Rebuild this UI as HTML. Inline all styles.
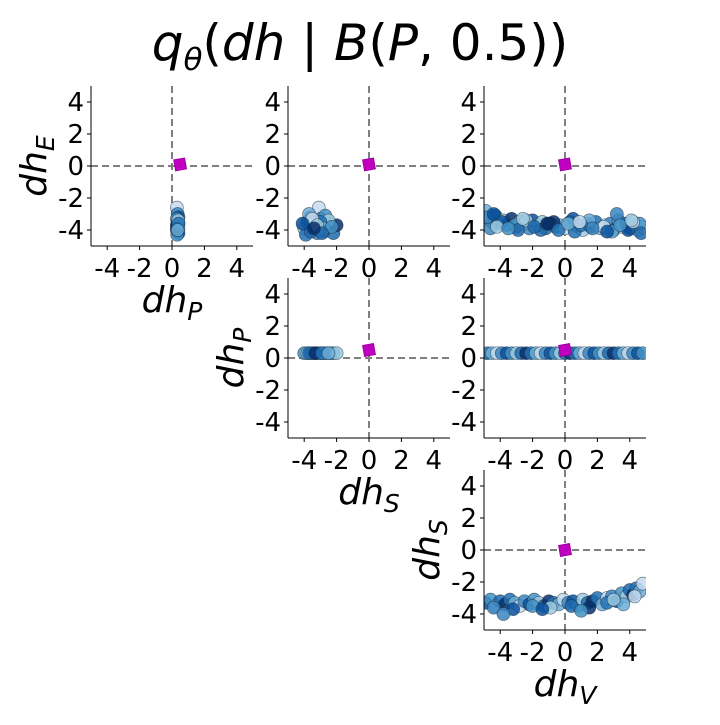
<!DOCTYPE html>
<html><head><meta charset="utf-8">
<style>
body{margin:0;background:#fff;}
svg text{font-family:"DejaVu Sans","Liberation Sans",sans-serif;}
</style></head>
<body>
<svg id="fig" width="720" height="720" viewBox="0 0 720 720" xmlns="http://www.w3.org/2000/svg">
<text x="360" y="60" text-anchor="middle" font-size="50"><tspan font-style="italic">q</tspan><tspan font-style="italic" font-size="31" dy="10">θ</tspan><tspan dy="-10">(</tspan><tspan font-style="italic">dh</tspan> | <tspan font-style="italic">B</tspan>(<tspan font-style="italic">P</tspan>, 0.5))</text>
</svg>
<script>
// ---- data ----
const tickValues = [-4,-2,0,2,4];
const tickLabels = ["-4","-2","0","2","4"];
const p00x = [0.3,0.35,0.4,0.3,0.35,0.4,0.3,0.35,0.4,0.3,0.35,0.4,0.32,0.38,0.35,0.3,0.4,0.35];
const p00y = [-2.6,-3.0,-3.2,-3.3,-3.5,-3.6,-3.7,-3.8,-3.9,-4.0,-4.1,-4.2,-4.3,-3.4,-4.0,-3.9,-3.6,-4.0];
const p01x = [-4.0,-3.8,-3.6,-3.5,-3.3,-3.1,-3.0,-2.8,-2.6,-2.4,-2.2,-2.0,-3.9,-3.7,-3.4,-3.2,-2.9,-2.7,-2.5,-3.6,-3.3,-3.0,-2.8,-3.5,-3.1,-4.1,-2.3,-3.2,-2.9,-3.4];
const p01y = [-3.9,-3.5,-3.2,-4.0,-3.7,-2.6,-3.3,-4.1,-3.8,-3.6,-4.2,-3.7,-4.3,-3.0,-3.6,-4.2,-3.9,-3.1,-3.4,-4.1,-3.8,-3.5,-3.9,-3.3,-4.0,-3.6,-3.8,-3.7,-4.2,-3.9];
const p02x = [-4.9,-4.7,-4.5,-4.3,-4.1,-3.8,-3.6,-3.3,-3.0,-2.8,-2.5,-2.2,-2.0,-1.7,-1.4,-1.2,-0.9,-0.6,-0.3,0.0,0.3,0.5,0.8,1.1,1.4,1.6,1.9,2.2,2.5,2.8,3.0,3.3,3.5,3.8,4.0,4.3,4.5,4.8,-4.6,-3.9,-3.1,-2.4,-1.5,-0.7,0.6,1.5,2.4,3.2,3.9,4.6,-4.2,-2.9,-1.0,1.0,2.9,4.2,-4.8,-4.4,-3.5,-2.6,-1.9,-1.1,-0.4,0.2,0.9,1.7,2.6,3.4,4.1,4.7];
const p02y = [-2.8,-3.3,-3.5,-3.1,-3.6,-3.4,-3.7,-3.3,-3.8,-3.5,-3.6,-3.9,-3.4,-3.7,-3.5,-3.9,-3.6,-3.8,-3.7,-3.9,-3.5,-3.3,-3.8,-4.0,-3.6,-3.8,-3.5,-3.9,-3.7,-3.6,-4.0,-3.4,-3.8,-3.6,-3.9,-3.7,-4.0,-3.8,-3.9,-3.5,-3.7,-3.4,-4.0,-3.5,-4.1,-3.4,-3.8,-3.0,-4.0,-3.6,-3.8,-4.0,-3.6,-3.7,-4.1,-3.5,-3.2,-3.0,-3.9,-3.3,-3.8,-3.6,-4.0,-3.6,-3.5,-3.9,-4.1,-3.7,-3.4,-4.2];
const p11x = [-4.0,-3.8,-3.6,-3.4,-3.2,-3.0,-2.8,-2.6,-2.4,-2.2,-2.0,-3.7,-3.3,-2.9,-2.5];
const p11y = [0.3,0.3,0.3,0.3,0.3,0.3,0.3,0.3,0.3,0.3,0.3,0.3,0.3,0.3,0.3];
const p12x = [-4.8,-4.5,-4.2,-3.9,-3.6,-3.3,-3.0,-2.7,-2.4,-2.1,-1.8,-1.5,-1.2,-0.9,-0.6,-0.3,0.0,0.3,0.6,0.9,1.2,1.5,1.8,2.1,2.4,2.7,3.0,3.3,3.6,3.9,4.2,4.5,4.8];
const p12y = [0.3,0.3,0.3,0.3,0.3,0.3,0.3,0.3,0.3,0.3,0.3,0.3,0.3,0.3,0.3,0.3,0.3,0.3,0.3,0.3,0.3,0.3,0.3,0.3,0.3,0.3,0.3,0.3,0.3,0.3,0.3,0.3,0.3];
const p22x = [-4.9,-4.6,-4.3,-4.0,-3.7,-3.4,-3.1,-2.8,-2.5,-2.2,-1.9,-1.6,-1.3,-1.0,-0.7,-0.4,-0.1,0.2,0.5,0.8,1.1,1.4,1.7,2.0,2.3,2.6,2.9,3.2,3.5,3.8,4.0,4.2,4.4,4.6,4.8,-4.4,-3.2,-2.0,-0.9,0.4,1.5,2.6,3.6,4.3,-3.8,-1.4,1.0,3.0];
const p22y = [-3.3,-3.1,-3.5,-3.2,-3.4,-3.1,-3.3,-3.5,-3.2,-3.4,-3.1,-3.3,-3.5,-3.2,-3.3,-3.4,-3.1,-3.3,-3.2,-3.5,-3.1,-3.3,-3.2,-3.0,-3.4,-3.0,-2.9,-3.2,-2.7,-2.9,-2.5,-2.8,-2.4,-2.6,-2.1,-3.6,-3.7,-3.5,-3.6,-3.5,-3.6,-3.3,-3.4,-2.9,-4.0,-3.7,-3.8,-3.1];
const truthX = [0.5,0.0,0.0,0.0,0.0,0.0];
const truthY = [0.1,0.1,0.1,0.5,0.5,0.0];

const NS="http://www.w3.org/2000/svg";
const svg=document.getElementById('fig');
const cols=[91,288,484], rows=[86,278,470], W=162, H=160;
const blues=["#c6dbef","#9ecae1","#6baed6","#4292c6","#2171b5","#08519c","#08306b","#3a85c0","#1f68ad"];
function mk(tag,attrs,parent){const e=document.createElementNS(NS,tag);for(const k in attrs)e.setAttribute(k,attrs[k]);(parent||svg).appendChild(e);return e;}

const panels=[
 {r:0,c:0,xs:p00x,ys:p00y,name:'dhp-vs-dhe'},
 {r:0,c:1,xs:p01x,ys:p01y,name:'dhs-vs-dhe'},
 {r:0,c:2,xs:p02x,ys:p02y,name:'dhv-vs-dhe'},
 {r:1,c:1,xs:p11x,ys:p11y,name:'dhs-vs-dhp'},
 {r:1,c:2,xs:p12x,ys:p12y,name:'dhv-vs-dhp'},
 {r:2,c:2,xs:p22x,ys:p22y,name:'dhv-vs-dhs'}
];
panels.forEach((p,pi)=>{
 const x0=cols[p.c], y0=rows[p.r];
 const sx=v=>x0+(v+5)/10*W, sy=v=>y0+H-(v+5)/10*H;
 const g=mk('g',{});
 
 
 const cp=mk('clipPath',{id:'cp'+pi},g); mk('rect',{x:x0,y:y0,width:W,height:H},cp);
 const hl=mk('line',{x1:x0,x2:x0+W,y1:sy(0),y2:sy(0),stroke:'#808080','stroke-width':2,'stroke-dasharray':'7,4'},g);
 
 
 const vl=mk('line',{x1:sx(0),x2:sx(0),y1:y0,y2:y0+H,stroke:'#808080','stroke-width':2,'stroke-dasharray':'7,4'},g);
 
 
 const pts=mk('g',{'clip-path':'url(#cp'+pi+')'},g);
 p.xs.forEach((xv,i)=>{
  const c=mk('circle',{cx:sx(xv),cy:sy(p.ys[i]),r:6.5,fill:blues[(i*7+pi)%blues.length],'fill-opacity':0.85,stroke:'#1a2a3a','stroke-opacity':0.6,'stroke-width':0.7},pts);
  
  
 });
 const tx=sx(truthX[pi]), ty=sy(truthY[pi]);
 const sq=mk('rect',{x:tx-5.5,y:ty-5.5,width:11,height:11,fill:'#c000c0',stroke:'#a000a0','stroke-width':1,transform:`rotate(-10 ${tx} ${ty})`},g);
 
 
 mk('line',{x1:x0,x2:x0,y1:y0,y2:y0+H,stroke:'#000','stroke-width':1},g);
 mk('line',{x1:x0,x2:x0+W,y1:y0+H,y2:y0+H,stroke:'#000','stroke-width':1},g);
 tickValues.forEach((t,i)=>{
  mk('line',{x1:sx(t),x2:sx(t),y1:y0+H,y2:y0+H+4,stroke:'#000'},g);
  const xl=mk('text',{x:sx(t),y:y0+H+31,'text-anchor':'middle','font-size':26},g); xl.textContent=tickLabels[i];
  
  
  mk('line',{x1:x0-4,x2:x0,y1:sy(t),y2:sy(t),stroke:'#000'},g);
  const yl=mk('text',{x:x0-7,y:sy(t)+9,'text-anchor':'end','font-size':26},g); yl.textContent=tickLabels[i];
  
  
 });
});
function axLabel(x,y,main,sub,rot,name){
 const t=mk('text',{x:x,y:y,'text-anchor':'middle','font-size':36,'font-style':'italic',transform:rot?`rotate(-90 ${x} ${y})`:''});
 t.innerHTML=main+'<tspan font-size="25" dy="8">'+sub+'</tspan>';
 
 
}
axLabel(172,312,'dh','P',false,'x-axis-title-dhp');
axLabel(369,504,'dh','S',false,'x-axis-title-dhs');
axLabel(565,696,'dh','V',false,'x-axis-title-dhv');
axLabel(46,166,'dh','E',true,'y-axis-title-dhe');
axLabel(243,358,'dh','P',true,'y-axis-title-dhp');
axLabel(439,550,'dh','S',true,'y-axis-title-dhs');
</script>
</body></html>
